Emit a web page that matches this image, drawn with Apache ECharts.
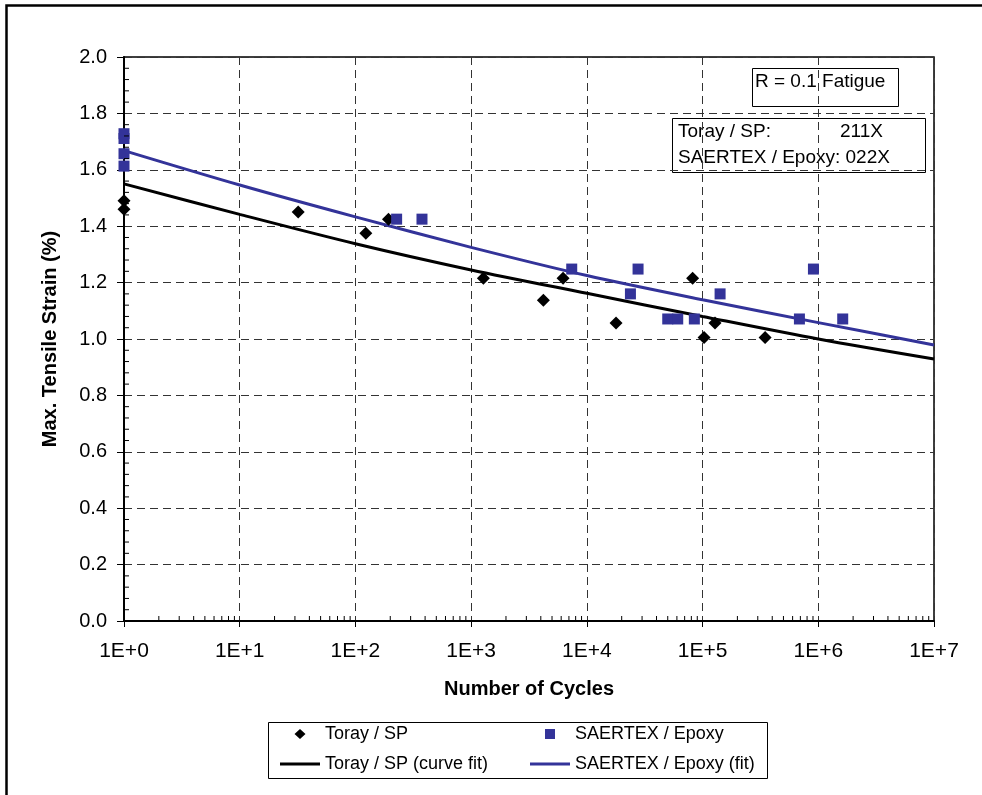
<!DOCTYPE html>
<html>
<head>
<meta charset="utf-8">
<title>Fatigue: Max. Tensile Strain vs Number of Cycles</title>
<script src="https://cdn.jsdelivr.net/npm/echarts@6/dist/echarts.min.js"></script>
<style>
  html, body { margin: 0; padding: 0; background: #ffffff; }
  #chart { width: 982px; height: 795px; }
</style>
</head>
<body>
<div id="chart"></div>
<script>
// Toray / SP test results
const torayCycles = [1, 1, 32, 123, 193, 1276, 4210, 6230, 17870, 82000, 103000, 128000, 347000];
const torayStrain = [1.49, 1.46, 1.45, 1.375, 1.425, 1.215, 1.137, 1.215, 1.057, 1.215, 1.005, 1.057, 1.005];

// SAERTEX / Epoxy test results
const saertexCycles = [1, 1, 1, 1, 227, 376, 7400, 23800, 27700, 50000, 61000, 84900, 141700, 687000, 908000, 1626000];
const saertexStrain = [1.728, 1.711, 1.657, 1.613, 1.425, 1.425, 1.248, 1.160, 1.248, 1.071, 1.071, 1.071, 1.160, 1.071, 1.248, 1.071];

// Curve fits, sampled at each decade
const fitCycles = [1, 10, 100, 1e3, 1e4, 1e5, 1e6, 1e7];
const torayFit = [1.550, 1.442, 1.338, 1.245, 1.162, 1.080, 1.000, 0.929];
const saertexFit = [1.668, 1.546, 1.433, 1.325, 1.225, 1.139, 1.058, 0.979];

// Axis tick settings
const xDecades = [1, 10, 100, 1e3, 1e4, 1e5, 1e6];
const xMinorMultiples = [2, 3, 4, 5, 6, 7, 8, 9];
const yMinorTicks = [];
for (let i = 0; i < 50; i++) {
  if (i % 5 !== 0) yMinorTicks.push(+(i * 0.04).toFixed(2));
}
const xMinorTicks = [];
xDecades.forEach(d => xMinorMultiples.forEach(m => xMinorTicks.push(d * m)));

const FONT = '"Liberation Sans", Arial, sans-serif';
const BLUE = '#333399';
// legend icons: each spans a full 40x10 slot, the marker centred in it
const EDGE = 'M0 5L0.01 5Z M40 5L39.99 5Z ';
const LINE_ICON = 'path://M0 3.5H40V6.5H0Z';
const DIAMOND_ICON = 'path://' + EDGE + 'M20 0L25.5 5L20 10L14.5 5Z';
const SQUARE_ICON = 'path://' + EDGE + 'M15 0H25V10H15Z';

const zip = (a, b) => a.map((v, i) => [v, b[i]]);

const chart = echarts.init(document.getElementById('chart'), null, { renderer: 'canvas' });

const legendBase = {
  orient: 'horizontal',
  itemWidth: 40,
  itemHeight: 10,
  itemGap: 0,
  padding: 0,
  symbolKeepAspect: true,
  textStyle: { fontFamily: FONT, fontSize: 18, color: '#000' },
  selectedMode: false
};

const option = {
  animation: false,
  backgroundColor: '#ffffff',
  textStyle: { fontFamily: FONT },
  grid: {
    left: 124, top: 57, width: 810, height: 564,
    show: true, borderColor: '#000', borderWidth: 1.5, backgroundColor: 'transparent'
  },
  xAxis: {
    type: 'log',
    logBase: 10,
    min: 1,
    max: 1e7,
    splitNumber: 7,
    name: 'Number of Cycles',
    nameLocation: 'middle',
    nameGap: 58,
    nameTextStyle: { fontFamily: FONT, fontSize: 20, fontWeight: 'bold', color: '#000' },
    axisLine: { show: true, onZero: false, lineStyle: { color: '#000', width: 2 } },
    axisTick: { show: true, inside: false, length: 6, lineStyle: { color: '#000', width: 1 } },
    axisLabel: {
      margin: 20,
      fontFamily: FONT, fontSize: 21, color: '#000',
      formatter: v => '1E+' + Math.round(Math.log10(v))
    },
    splitLine: { show: true, lineStyle: { color: '#333', width: 1, type: [8, 5] } }
  },
  yAxis: {
    type: 'value',
    min: 0,
    max: 2,
    interval: 0.2,
    name: 'Max. Tensile Strain (%)',
    nameLocation: 'middle',
    nameGap: 64,
    nameTextStyle: { fontFamily: FONT, fontSize: 20, fontWeight: 'bold', color: '#000' },
    axisLine: { show: true, lineStyle: { color: '#000', width: 2 } },
    axisTick: { show: true, inside: false, length: 7, lineStyle: { color: '#000', width: 1 } },
    axisLabel: {
      margin: 17,
      fontFamily: FONT, fontSize: 20, color: '#000',
      formatter: v => v.toFixed(1)
    },
    splitLine: { show: true, lineStyle: { color: '#333', width: 1, type: [8, 5] } }
  },
  legend: [
    Object.assign({}, legendBase, { left: 280, top: 725, data: [{ name: 'Toray / SP', icon: DIAMOND_ICON }] }),
    Object.assign({}, legendBase, { left: 530, top: 725, data: [{ name: 'SAERTEX / Epoxy', icon: SQUARE_ICON }] }),
    Object.assign({}, legendBase, { left: 280, top: 755, data: [{ name: 'Toray / SP (curve fit)', icon: LINE_ICON }] }),
    Object.assign({}, legendBase, { left: 530, top: 755, data: [{ name: 'SAERTEX / Epoxy (fit)', icon: LINE_ICON }] })
  ],
  graphic: [
    // outer chart frame
    { type: 'rect', z: -10, silent: true,
      shape: { x: 6.5, y: 5.5, width: 1100, height: 1000 },
      style: { fill: 'none', stroke: '#000', lineWidth: 2.5 } },
    // legend box
    { type: 'rect', z: -5, silent: true,
      shape: { x: 268.5, y: 722.5, width: 499, height: 56 },
      style: { fill: '#fff', stroke: '#000', lineWidth: 1 } },
    // test condition note
    { type: 'group', z: 50, silent: true, children: [
      { type: 'rect', shape: { x: 752.5, y: 68.5, width: 146, height: 38 },
        style: { fill: '#fff', stroke: '#000', lineWidth: 1 } },
      { type: 'text', x: 755, y: 82,
        style: { text: 'R = 0.1 Fatigue', font: '19px ' + FONT, fill: '#000', verticalAlign: 'middle' } }
    ] },
    // material identifiers
    { type: 'group', z: 50, silent: true, children: [
      { type: 'rect', shape: { x: 672.5, y: 118.5, width: 253, height: 54 },
        style: { fill: '#fff', stroke: '#000', lineWidth: 1 } },
      { type: 'text', x: 678, y: 132,
        style: { text: 'Toray / SP:', font: '19px ' + FONT, fill: '#000', verticalAlign: 'middle' } },
      { type: 'text', x: 840, y: 132,
        style: { text: '211X', font: '19px ' + FONT, fill: '#000', verticalAlign: 'middle' } },
      { type: 'text', x: 678, y: 158,
        style: { text: 'SAERTEX / Epoxy: 022X', font: '19px ' + FONT, fill: '#000', verticalAlign: 'middle' } }
    ] }
  ],
  series: [
    {
      name: 'Toray / SP (curve fit)',
      type: 'line',
      data: zip(fitCycles, torayFit),
      symbol: 'none',
      showSymbol: false,
      smooth: 0.3,
      z: 3,
      color: '#000',
      lineStyle: { color: '#000', width: 3 }
    },
    {
      name: 'SAERTEX / Epoxy (fit)',
      type: 'line',
      data: zip(fitCycles, saertexFit),
      symbol: 'none',
      showSymbol: false,
      smooth: 0.3,
      z: 3,
      color: BLUE,
      lineStyle: { color: BLUE, width: 3 }
    },
    {
      name: 'Toray / SP',
      type: 'scatter',
      data: zip(torayCycles, torayStrain),
      symbol: 'diamond',
      symbolSize: 13,
      z: 4,
      itemStyle: { color: '#000', opacity: 1 }
    },
    {
      name: 'SAERTEX / Epoxy',
      type: 'scatter',
      data: zip(saertexCycles, saertexStrain),
      symbol: 'rect',
      symbolSize: 11,
      z: 5,
      itemStyle: { color: BLUE, opacity: 1 }
    },
    {
      // minor ticks on the log x axis (2..9 within each decade), pointing inward
      name: 'xMinor',
      type: 'custom',
      silent: true,
      z: 6,
      data: xMinorTicks.map(v => [v, 0]),
      renderItem: (params, api) => {
        const p = api.coord([api.value(0), 0]);
        return { type: 'line', shape: { x1: p[0], y1: p[1], x2: p[0], y2: p[1] - 5 },
                 style: { stroke: '#000', lineWidth: 1 } };
      }
    },
    {
      // minor ticks on the y axis, pointing inward
      name: 'yMinor',
      type: 'custom',
      silent: true,
      z: 6,
      data: yMinorTicks.map(v => [1, v]),
      renderItem: (params, api) => {
        const p = api.coord([1, api.value(1)]);
        return { type: 'line', shape: { x1: p[0], y1: p[1], x2: p[0] + 5, y2: p[1] },
                 style: { stroke: '#000', lineWidth: 1 } };
      }
    }
  ]
};

chart.setOption(option);
</script>
</body>
</html>
